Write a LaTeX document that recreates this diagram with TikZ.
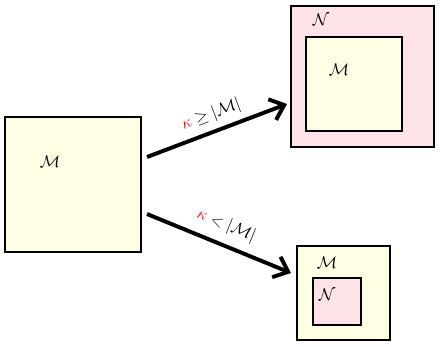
\documentclass[tikz,border=0pt]{standalone}
\usepackage{amsmath,amssymb}
\usepackage{xcolor}
\usetikzlibrary{arrows.meta,calc,positioning}
\definecolor{setyellow}{HTML}{FFFEE4}
\definecolor{setpink}{HTML}{FDE3E6}

\begin{document}
\begin{tikzpicture}[
    x=0.025cm,y=-0.025cm,
    font=\fontsize{11.5}{13}\selectfont,
    setbox/.style={draw,line width=0.8pt,inner sep=0pt},
    yellowbox/.style={setbox,fill=setyellow},
    pinkbox/.style={setbox,fill=setpink},
    branch/.style={-{Straight Barb[length=3.2mm,width=5.5mm]},line width=2.8pt}
  ]
    \useasboundingbox (0,0) rectangle (440,347);

    % the starting model
    \node[yellowbox,minimum width=3.4cm,minimum height=3.375cm] (src) at (73,184.5) {};
    \node (srcM) at (50,162) {$\mathcal{M}$};

    % case kappa >= |M|
    \node[pinkbox,minimum width=3.575cm,minimum height=3.525cm] (bigN) at (362.5,76.5) {};
    \node[yellowbox,minimum width=2.4cm,minimum height=2.35cm] (innerM) at (354,84) {};
    \node (bigNlab) at (321,20) {$\mathcal{N}$};
    \node (innerMlab) at (339,70) {$\mathcal{M}$};

    % case kappa < |M|
    \node[yellowbox,minimum width=2.325cm,minimum height=2.35cm] (bigM) at (343.5,293) {};
    \node[pinkbox,minimum width=1.2cm,minimum height=1.175cm] (innerN) at (337,301.5) {};
    \node (bigMlab) at (327,263) {$\mathcal{M}$};
    \node (innerNlab) at (327,295) {$\mathcal{N}$};

    \coordinate (upfrom) at (147,157);
    \coordinate (upto) at (287,104);
    \coordinate (downfrom) at (147,214);
    \coordinate (downto) at (291,273);
    \draw[branch] (upfrom) -- node[above=1pt,sloped]
      {$\textcolor{red}{\kappa}\geq|\mathcal{M}|$} (upto);
    \draw[branch] (downfrom) -- node[pos=0.5,above=3pt,sloped]
      {$\textcolor{red}{\kappa}<|\mathcal{M}|$} (downto);
  \end{tikzpicture}
\end{document}
